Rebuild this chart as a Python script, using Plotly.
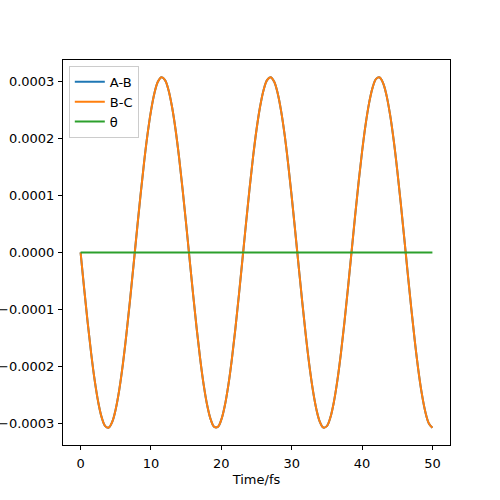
import plotly.graph_objects as go

time_fs = [i * 0.5 for i in range(101)]
ab_values = [0.0, -0.622e-4, -1.218e-4, -1.764e-4, -2.236e-4, -2.616e-4, -2.887e-4, -3.039e-4,
             -3.064e-4, -2.963e-4, -2.738e-4, -2.400e-4, -1.963e-4, -1.444e-4, -0.865e-4, -0.250e-4,
             0.375e-4, 0.984e-4, 1.553e-4, 2.058e-4, 2.476e-4, 2.793e-4, 2.993e-4, 3.069e-4,
             3.018e-4, 2.842e-4, 2.547e-4, 2.149e-4, 1.660e-4, 1.102e-4, 0.499e-4, -0.125e-4,
             -0.744e-4, -1.332e-4, -1.865e-4, -2.321e-4, -2.679e-4, -2.927e-4, -3.054e-4, -3.054e-4,
             -2.927e-4, -2.679e-4, -2.321e-4, -1.865e-4, -1.332e-4, -0.744e-4, -0.125e-4, 0.499e-4,
             1.102e-4, 1.660e-4, 2.149e-4, 2.547e-4, 2.842e-4, 3.018e-4, 3.069e-4, 2.993e-4,
             2.793e-4, 2.476e-4, 2.058e-4, 1.553e-4, 0.984e-4, 0.375e-4, -0.250e-4, -0.865e-4,
             -1.444e-4, -1.963e-4, -2.400e-4, -2.738e-4, -2.963e-4, -3.064e-4, -3.039e-4, -2.887e-4,
             -2.616e-4, -2.236e-4, -1.763e-4, -1.218e-4, -0.622e-4, 0.0, 0.622e-4, 1.218e-4,
             1.764e-4, 2.236e-4, 2.616e-4, 2.887e-4, 3.039e-4, 3.064e-4, 2.963e-4, 2.738e-4,
             2.400e-4, 1.963e-4, 1.444e-4, 0.865e-4, 0.250e-4, -0.375e-4, -0.984e-4, -1.553e-4,
             -2.058e-4, -2.476e-4, -2.793e-4, -2.993e-4, -3.069e-4]
bc_values = list(ab_values)
theta_values = [0.0] * len(time_fs)

x_ticks = [0, 10, 20, 30, 40, 50]
y_ticks = [-0.0003, -0.0002, -0.0001, 0.0, 0.0001, 0.0002, 0.0003]
y_tick_labels = ["\u22120.0003", "\u22120.0002", "\u22120.0001", "0.0000", "0.0001", "0.0002", "0.0003"]

fig = go.Figure()
fig.add_trace(go.Scatter(x=time_fs, y=ab_values, mode="lines", name="A-B",
                         line=dict(color="#1f77b4", width=2, shape="spline")))
fig.add_trace(go.Scatter(x=time_fs, y=bc_values, mode="lines", name="B-C",
                         line=dict(color="#ff7f0e", width=2, shape="spline")))
fig.add_trace(go.Scatter(x=time_fs, y=theta_values, mode="lines", name="\u03b8",
                         line=dict(color="#2ca02c", width=2)))

axis_common = dict(showgrid=False, zeroline=False, showline=True, linecolor="black", linewidth=1,
                   mirror=True, ticks="outside", ticklen=4, tickcolor="black", automargin=False,
                   tickfont=dict(family="DejaVu Sans", size=13, color="black"))

fig.update_layout(
    width=500, height=500,
    margin=dict(l=63, r=50, t=60, b=55),
    plot_bgcolor="white", paper_bgcolor="white",
    font=dict(family="DejaVu Sans", size=13, color="black"),
    xaxis=dict(range=[-2.5, 52.5], tickvals=x_ticks, ticklabelstandoff=2,
               title=dict(text="Time/fs", font=dict(size=13), standoff=5), **axis_common),
    yaxis=dict(range=[-0.000337, 0.000337], tickvals=y_ticks, ticktext=y_tick_labels,
               ticklabelstandoff=1, **axis_common),
    legend=dict(x=0.015, y=0.985, xanchor="left", yanchor="top", bgcolor="rgba(255,255,255,0.8)",
                bordercolor="#cccccc", borderwidth=1, font=dict(size=13)),
    showlegend=True,
)

fig.write_html("out.html", config={"displayModeBar": False},
               post_script="document.body.style.margin='0';")
